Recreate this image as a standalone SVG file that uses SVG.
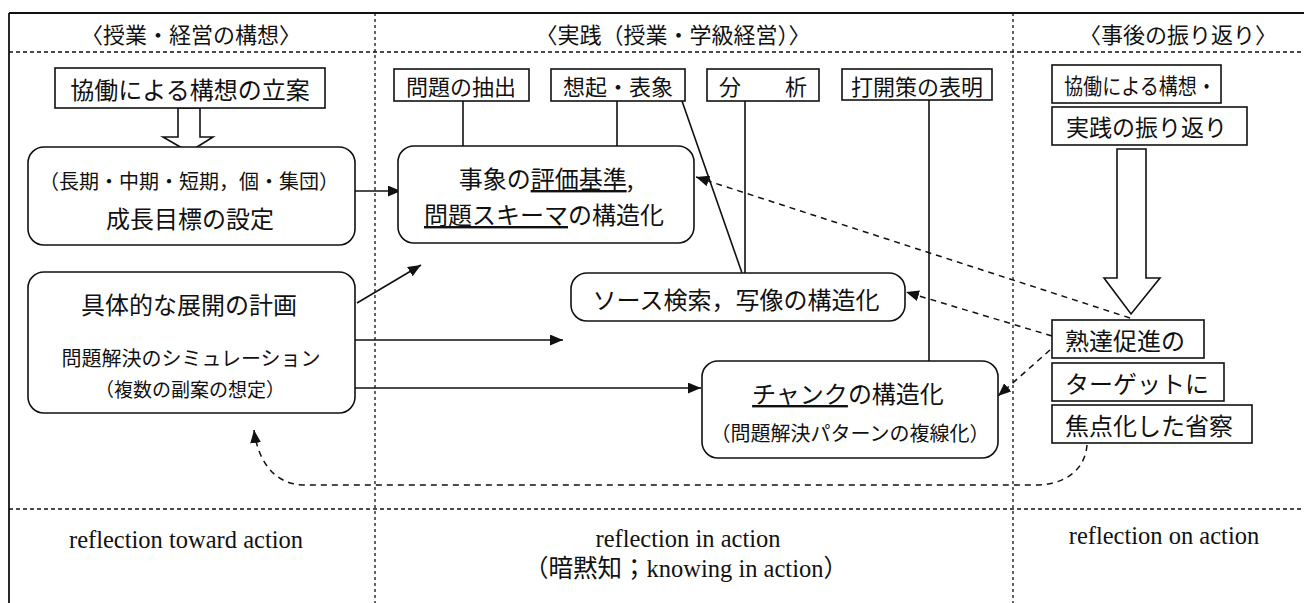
<svg xmlns="http://www.w3.org/2000/svg" width="1304" height="603" viewBox="0 0 1304 603">
<style>
  text { font-family: "Noto Sans CJK JP", "Liberation Sans", sans-serif; fill: #111; }
  .en { font-family: "Liberation Serif", "Noto Sans CJK JP", serif; }
  .box { fill: #fff; stroke: #111; stroke-width: 1.6; }
  .line { fill: none; stroke: #111; stroke-width: 1.6; }
  .dash { fill: none; stroke: #111; stroke-width: 1.5; stroke-dasharray: 6 5; }
  .grid { fill: none; stroke: #111; stroke-width: 1.5; stroke-dasharray: 4 3; }
  .vgrid { fill: none; stroke: #111; stroke-width: 1.3; stroke-dasharray: 3 3; }
  .u { text-decoration: underline; }
</style>
<defs>
  <marker id="ah" viewBox="0 0 12 10" refX="12" refY="5" markerWidth="13" markerHeight="11" markerUnits="userSpaceOnUse" orient="auto">
    <path d="M0,0 L12,5 L0,10 Z" fill="#111"/>
  </marker>
</defs>

<!-- frame -->
<g id="frame">
  <line x1="9" y1="13" x2="1304" y2="13" stroke="#111" stroke-width="2.2"/>
  <line x1="9" y1="13" x2="9" y2="603" stroke="#111" stroke-width="1.8"/>
  <line x1="9" y1="52" x2="1304" y2="52" class="grid"/>
  <line x1="9" y1="509" x2="1304" y2="509" class="grid"/>
  <line x1="375" y1="13" x2="375" y2="603" class="vgrid"/>
  <line x1="1013" y1="13" x2="1013" y2="603" class="vgrid"/>
</g>

<!-- headers -->
<g id="headers" font-size="22" text-anchor="middle">
  <text x="191" y="33" dominant-baseline="central">〈授業・経営の構想〉</text>
  <text x="673" y="33" dominant-baseline="central">〈実践（授業・学級経営）〉</text>
  <text x="1178" y="33" dominant-baseline="central">〈事後の振り返り〉</text>
</g>

<!-- connectors -->
<g id="connectors">
  <polygon points="178,108 200,108 200,137 213,137 189,152 163,137 178,137" class="box"/>
  <polygon points="1117,149 1146,149 1146,278 1160,278 1131,314 1104,278 1117,278" class="box"/>
  <line x1="355" y1="191" x2="401" y2="191" class="line" marker-end="url(#ah)"/>
  <line x1="357" y1="303" x2="421" y2="265" class="line" marker-end="url(#ah)"/>
  <line x1="355" y1="340" x2="563" y2="340" class="line" marker-end="url(#ah)"/>
  <line x1="355" y1="388" x2="701" y2="388" class="line" marker-end="url(#ah)"/>
  <line x1="463" y1="101" x2="463" y2="146" class="line"/>
  <line x1="617" y1="101" x2="617" y2="146" class="line"/>
  <line x1="682" y1="101" x2="742" y2="273" class="line"/>
  <line x1="745" y1="101" x2="745" y2="273" class="line"/>
  <line x1="929" y1="100" x2="929" y2="361" class="line"/>
  <line x1="1130" y1="318" x2="696" y2="177" class="dash" marker-end="url(#ah)"/>
  <line x1="1052" y1="336" x2="906" y2="292" class="dash" marker-end="url(#ah)"/>
  <line x1="1050" y1="350" x2="998" y2="396" class="dash" marker-end="url(#ah)"/>
  <path d="M1087,445 C1085,470 1065,485 1035,485 L305,485 C275,485 258,462 254,430" class="dash" marker-end="url(#ah)"/>
</g>

<!-- left column -->
<g id="n-kyodo-ritsuan">
  <rect x="55" y="68" width="270" height="40" class="box"/>
  <text x="190" y="88" font-size="24" text-anchor="middle" dominant-baseline="central">協働による構想の立案</text>
</g>
<g id="n-seicho">
  <rect x="28" y="147" width="327" height="98" rx="16" class="box"/>
  <text x="189" y="180" font-size="20" text-anchor="middle" dominant-baseline="central">（長期・中期・短期，個・集団）</text>
  <text x="190" y="217" font-size="24" text-anchor="middle" dominant-baseline="central">成長目標の設定</text>
</g>
<g id="n-keikaku">
  <rect x="28" y="272" width="327" height="141" rx="16" class="box"/>
  <text x="189" y="303" font-size="24" text-anchor="middle" dominant-baseline="central">具体的な展開の計画</text>
  <text x="191" y="357" font-size="20" text-anchor="middle" dominant-baseline="central">問題解決のシミュレーション</text>
  <text x="190" y="388" font-size="19" text-anchor="middle" dominant-baseline="central">（複数の副案の想定）</text>
</g>

<!-- middle column -->
<g id="n-chushutsu">
  <rect x="394" y="69" width="135" height="32" class="box"/>
  <text x="461" y="85" font-size="22" text-anchor="middle" dominant-baseline="central">問題の抽出</text>
</g>
<g id="n-souki">
  <rect x="551" y="69" width="134" height="32" class="box"/>
  <text x="618" y="85" font-size="22" text-anchor="middle" dominant-baseline="central">想起・表象</text>
</g>
<g id="n-bunseki">
  <rect x="707" y="69" width="112" height="32" class="box"/>
  <text x="763" y="85" font-size="22" text-anchor="middle" dominant-baseline="central">分　　析</text>
</g>
<g id="n-dakai">
  <rect x="842" y="69" width="150" height="31" class="box"/>
  <text x="917" y="85" font-size="22" text-anchor="middle" dominant-baseline="central">打開策の表明</text>
</g>
<g id="n-hyoka">
  <rect x="398" y="146" width="296" height="97" rx="16" class="box"/>
  <text x="546" y="177" font-size="24" text-anchor="middle" dominant-baseline="central">事象の<tspan class="u">評価基準</tspan>,</text>
  <text x="544" y="213" font-size="24" text-anchor="middle" dominant-baseline="central"><tspan class="u">問題スキーマ</tspan>の構造化</text>
</g>
<g id="n-source">
  <rect x="571" y="273" width="334" height="48" rx="16" class="box"/>
  <text x="736" y="298" font-size="24" text-anchor="middle" dominant-baseline="central">ソース検索，写像の構造化</text>
</g>
<g id="n-chunk">
  <rect x="702" y="361" width="296" height="97" rx="16" class="box"/>
  <text x="848" y="392" font-size="24" text-anchor="middle" dominant-baseline="central"><tspan class="u">チャンク</tspan>の構造化</text>
  <text x="850" y="432" font-size="20" text-anchor="middle" dominant-baseline="central">（問題解決パターンの複線化）</text>
</g>

<!-- right column -->
<g id="n-furikaeri">
  <rect x="1052" y="65" width="169" height="38" class="box"/>
  <text x="1064" y="84" font-size="22" dominant-baseline="central" textLength="152" lengthAdjust="spacingAndGlyphs">協働による構想・</text>
  <rect x="1052" y="107" width="195" height="38" class="box"/>
  <text x="1066" y="126" font-size="23" dominant-baseline="central">実践の振り返り</text>
</g>
<g id="n-jukutatsu">
  <rect x="1052" y="320" width="152" height="38" class="box"/>
  <text x="1065" y="339" font-size="24" dominant-baseline="central">熟達促進の</text>
  <rect x="1052" y="363" width="172" height="38" class="box"/>
  <text x="1065" y="382" font-size="24" dominant-baseline="central">ターゲットに</text>
  <rect x="1052" y="405" width="200" height="38" class="box"/>
  <text x="1065" y="424" font-size="24" dominant-baseline="central">焦点化した省察</text>
</g>

<!-- bottom labels -->
<g id="labels" font-size="24.5" text-anchor="middle">
  <text class="en" x="186" y="548">reflection toward action</text>
  <text class="en" x="688" y="547">reflection in action</text>
  <text class="en" x="686" y="577">（暗黙知；knowing in action）</text>
  <text class="en" x="1164" y="544">reflection on action</text>
</g>
</svg>
